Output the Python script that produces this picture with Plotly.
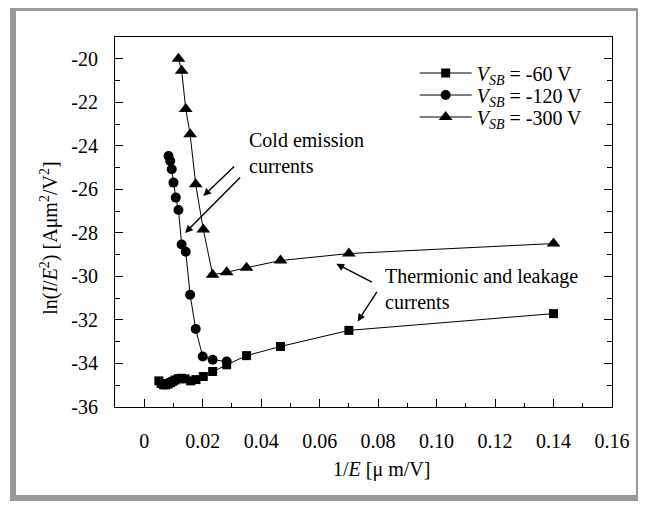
import plotly.graph_objects as go

# ---- data ----
sq_x = [0.0050, 0.0058, 0.0066, 0.0074, 0.0082, 0.0090, 0.0098, 0.0106, 0.0116, 0.0127,
        0.0140, 0.0159, 0.0177, 0.0202, 0.0234, 0.0282, 0.0350, 0.0466, 0.0700, 0.1400]
sq_y = [-34.80, -34.92, -34.98, -34.98, -34.94, -34.88, -34.82, -34.76, -34.70, -34.68,
        -34.71, -34.80, -34.74, -34.60, -34.37, -34.06, -33.64, -33.22, -32.48, -31.71]

ci_x = [0.0083, 0.0089, 0.0094, 0.0100, 0.0108, 0.0117, 0.0128, 0.0142, 0.0157, 0.0176,
        0.0200, 0.0234, 0.0282]
ci_y = [-24.47, -24.70, -25.08, -25.69, -26.38, -26.95, -28.53, -28.87, -30.84, -32.42,
        -33.68, -33.83, -33.91]

tr_x = [0.0117, 0.0128, 0.0142, 0.0157, 0.0176, 0.0202, 0.0234, 0.0282, 0.0350, 0.0466,
        0.0700, 0.1400]
tr_y = [-20.00, -20.55, -22.31, -23.47, -25.77, -27.84, -29.92, -29.81, -29.60, -29.27,
        -28.95, -28.49]

series_names = ["<i>V</i><sub><i>SB</i></sub> = -60 V",
                "<i>V</i><sub><i>SB</i></sub> = -120 V",
                "<i>V</i><sub><i>SB</i></sub> = -300 V"]

x_tickvals = [0, 0.02, 0.04, 0.06, 0.08, 0.10, 0.12, 0.14, 0.16]
x_ticktext = ["0", "0.02", "0.04", "0.06", "0.08", "0.10", "0.12", "0.14", "0.16"]
y_tickvals = [-36, -34, -32, -30, -28, -26, -24, -22, -20]
y_ticktext = ["-36", "-34", "-32", "-30", "-28", "-26", "-24", "-22", "-20"]

FONT = "Liberation Serif"

fig = go.Figure()
fig.add_trace(go.Scatter(x=sq_x, y=sq_y, mode="lines+markers", name=series_names[0],
                         legend="legend",
                         line=dict(color="black", width=1),
                         marker=dict(symbol="square", size=9, color="black")))
fig.add_trace(go.Scatter(x=ci_x, y=ci_y, mode="lines+markers", name=series_names[1],
                         legend="legend2",
                         line=dict(color="black", width=1),
                         marker=dict(symbol="circle", size=10, color="black")))
fig.add_trace(go.Scatter(x=tr_x, y=tr_y, mode="lines+markers", name=series_names[2],
                         legend="legend3",
                         line=dict(color="black", width=1),
                         marker=dict(symbol="triangle-up", size=12, color="black")))

axis_common = dict(showgrid=False, zeroline=False, showline=True, linecolor="black",
                   linewidth=1.2, ticks="inside", ticklen=8, tickcolor="black",
                   tickfont=dict(family=FONT, size=20, color="black"))

fig.update_xaxes(range=[-0.01, 0.16], tickvals=x_tickvals, ticktext=x_ticktext,
                 mirror=True, ticklabelstandoff=16,
                 minor=dict(dtick=0.01, tick0=0, ticks="inside", ticklen=4, tickcolor="black"),
                 **axis_common)
fig.update_yaxes(range=[-36, -19], tickvals=y_tickvals, ticktext=y_ticktext,
                 mirror="ticks", ticklabelstandoff=12,
                 minor=dict(dtick=1, tick0=0, ticks="inside", ticklen=5, tickcolor="black"),
                 **axis_common)

annos = [
    dict(text="1/<i>E</i> [μ m/V]", xref="paper", yref="paper", x=0.537, y=-0.170,
         showarrow=False, xanchor="center", yanchor="middle",
         font=dict(family=FONT, size=20)),
    dict(text="ln(<i>I</i>/<i>E</i><sup>2</sup>) [Aμm<sup>2</sup>/V<sup>2</sup>]",
         xref="paper", yref="paper", x=-0.131, y=0.457, textangle=-90,
         showarrow=False, xanchor="center", yanchor="middle",
         font=dict(family=FONT, size=20)),
    dict(text="Cold emission<br>currents", xref="x", yref="y", x=0.0351, y=-24.34,
         showarrow=False, xanchor="left", yanchor="middle", align="left",
         font=dict(family=FONT, size=20)),
    dict(text="Thermionic and leakage<br>currents", xref="x", yref="y", x=0.0815, y=-30.59,
         showarrow=False, xanchor="left", yanchor="middle", align="left",
         font=dict(family=FONT, size=20)),
]
arrows = [
    ((0.03125, -24.88), (0.0202, -26.31)),
    ((0.0333, -25.39), (0.01397, -28.0)),
    ((0.0784, -30.30), (0.0657, -29.42)),
    ((0.0799, -30.64), (0.0730, -32.07)),
]
for (tx, ty), (hx, hy) in arrows:
    annos.append(dict(text="", x=hx, y=hy, ax=tx, ay=ty, xref="x", yref="y",
                      axref="x", ayref="y", showarrow=True, arrowhead=2,
                      arrowsize=1.1, arrowwidth=1.4, arrowcolor="black"))

leg_common = dict(x=0.603, xanchor="left", yanchor="middle",
                  bgcolor="rgba(0,0,0,0)", borderwidth=0,
                  font=dict(family=FONT, size=20, color="black"), itemwidth=52)

GRAY = "#999999"
frame = [
    (-0.2113, -0.1992, -0.2541, 1.0784),   # left band
    (-0.2113, 1.0604, 1.0703, 1.0784),     # top band
    (1.0483, 1.0604, -0.2541, 1.0784),     # right band
    (-0.2113, 1.0604, -0.2541, -0.2378),   # bottom band
]
shapes = [dict(type="rect", xref="paper", yref="paper", x0=a, x1=b, y0=c, y1=d,
               fillcolor=GRAY, line=dict(width=0), layer="below") for a, b, c, d in frame]

fig.update_layout(
    width=646, height=506,
    margin=dict(l=107, r=42, t=29, b=107),
    paper_bgcolor="white", plot_bgcolor="white",
    font=dict(family=FONT, size=20, color="black"),
    showlegend=True,
    legend=dict(y=0.9027, **leg_common),
    legend2=dict(y=0.8432, **leg_common),
    legend3=dict(y=0.7838, **leg_common),
    annotations=annos,
    shapes=shapes,
)

fig.write_html("out.html")
